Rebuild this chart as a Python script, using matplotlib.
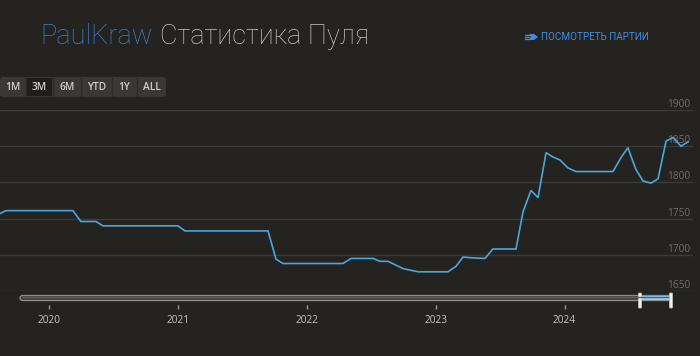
import matplotlib
matplotlib.use("Agg")
import matplotlib.pyplot as plt
from matplotlib.patches import FancyBboxPatch, Rectangle, Polygon

# ---- data (fractional years, rating) ----
dates = [2019.620, 2019.666, 2020.186, 2020.248, 2020.365, 2020.419, 2021.001,
         2021.055, 2021.699, 2021.761, 2021.815, 2022.281, 2022.343, 2022.514,
         2022.568, 2022.630, 2022.746, 2022.863, 2023.095, 2023.157, 2023.212,
         2023.266, 2023.382, 2023.444, 2023.623, 2023.677, 2023.739, 2023.794,
         2023.856, 2023.910, 2023.964, 2024.026, 2024.088, 2024.375, 2024.437,
         2024.491, 2024.553, 2024.608, 2024.670, 2024.725, 2024.787, 2024.841,
         2024.903, 2024.957]
rating = [1757, 1761, 1761, 1746, 1746, 1740, 1740,
          1733, 1733, 1694, 1688, 1688, 1695, 1695,
          1691, 1691, 1681, 1676.5, 1676.5, 1684, 1697,
          1696, 1695, 1708, 1708, 1759, 1789, 1779,
          1841, 1835, 1831, 1820, 1815, 1815, 1834,
          1848, 1818, 1802, 1799, 1805, 1857, 1862,
          1850, 1856]
year_ticks = [2020, 2021, 2022, 2023, 2024]
y_ticks = [1650, 1700, 1750, 1800, 1850, 1900]
buttons = ["1M", "3M", "6M", "YTD", "1Y", "ALL"]
selected_button = "3M"
user_name = "PaulKraw"
title_text = "Статистика Пуля"
link_text = "ПОСМОТРЕТЬ ПАРТИИ"

BG = "#252320"
GRID = "#3d3b38"
LINE = "#4ba5de"
W, H = 700, 356

fig = plt.figure(figsize=(W / 100, H / 100), dpi=100)
fig.patch.set_facecolor(BG)

# main plot axes (pixel geometry: x 0..693, y 110..291)
ax = fig.add_axes([0, 1 - 291 / H, 693 / W, 181 / H])
ax.set_facecolor(BG)
ax.set_xlim(2019.62, 2024.996)
ax.set_ylim(1650, 1900)
for s in ax.spines.values():
    s.set_visible(False)
ax.set_yticks(y_ticks)
ax.tick_params(axis="y", left=False, labelleft=False)
ax.grid(axis="y", color=GRID, linewidth=1.0)
ax.set_axisbelow(True)
for v in y_ticks:
    ax.text(0.9965, v, str(v), transform=ax.get_yaxis_transform(), ha="right",
            va="bottom", fontsize=7.3, color="#6f6e6b", family="Open Sans")
ax.plot(dates, rating, color=LINE, linewidth=1.2, solid_joinstyle="miter", zorder=3)

ax.set_xticks(year_ticks)
ax.set_xticklabels([str(y) for y in year_ticks])
ax.spines["bottom"].set_position(("outward", 10))
ax.tick_params(axis="x", length=3, width=1, color="#9a9a9a", pad=4,
               labelsize=7.3, labelcolor="#c4c4c4")
for lab in ax.get_xticklabels():
    lab.set_family("Open Sans")
ax.grid(axis="x", visible=False)

# overlay axes for decorations in pixel coordinates
ov = fig.add_axes([0, 0, 1, 1], zorder=5)
ov.set_xlim(0, W)
ov.set_ylim(H, 0)
ov.axis("off")
ov.patch.set_alpha(0)

# title
ov.text(40, 44, user_name, fontsize=19.5, color="#3a80ca", family="Roboto",
        fontweight="light", va="baseline", ha="left")
ov.text(160, 44, title_text, fontsize=19.5, color="#c3c3c3", family="Roboto",
        fontweight="light", va="baseline", ha="left")

# link
ov.text(541, 37.5, link_text, fontsize=7.1, color="#3f8ee0", family="Roboto",
        va="center", ha="left")
ov.add_patch(Polygon([(529, 34), (534, 34), (538, 37), (534, 40), (529, 40), (531, 37)],
                     closed=True, facecolor="#3f8ee0", edgecolor="none"))
for yy in (35, 37, 39):
    ov.plot([524.5, 528.5], [yy, yy], color="#3f8ee0", linewidth=0.9)

# range buttons
ov.add_patch(FancyBboxPatch((0, 77), 166, 20, boxstyle="round,pad=0,rounding_size=3",
                            facecolor="#393835", edgecolor="none"))
bx = [(0, 25), (27, 52), (54, 80), (82, 111), (113, 136), (138, 166)]
for (x0, x1), lab in zip(bx, buttons):
    if lab == selected_button:
        ov.add_patch(Rectangle((x0, 78), x1 - x0, 18, facecolor="#1e1d1b",
                               edgecolor="none"))
    if x1 < 166:
        ov.plot([x1 + 1, x1 + 1], [78, 96], color="#2c2b28", linewidth=1)
    ov.text((x0 + x1) / 2, 87.5, lab, fontsize=7.3, color="#cfcfcf",
            family="Open Sans", fontweight="semibold", ha="center", va="center")

# navigator bar
ov.add_patch(FancyBboxPatch((20, 295.5), 651, 5, boxstyle="round,pad=0,rounding_size=2.5",
                            facecolor="#424140", edgecolor="#8f8f8d", linewidth=0.9))
ov.plot([23, 668], [297, 297], color="#5e5d5b", linewidth=1.0)
ov.add_patch(Rectangle((640, 296), 31, 4, facecolor="#8fd0f6", edgecolor="none"))
for hx in (640, 671):
    ov.add_patch(FancyBboxPatch((hx - 1.5, 293), 3, 15, boxstyle="round,pad=0,rounding_size=1",
                                facecolor="#f2f2f2", edgecolor="#bdbdbd", linewidth=0.6))

fig.savefig("out.png", dpi=100, facecolor=BG)
